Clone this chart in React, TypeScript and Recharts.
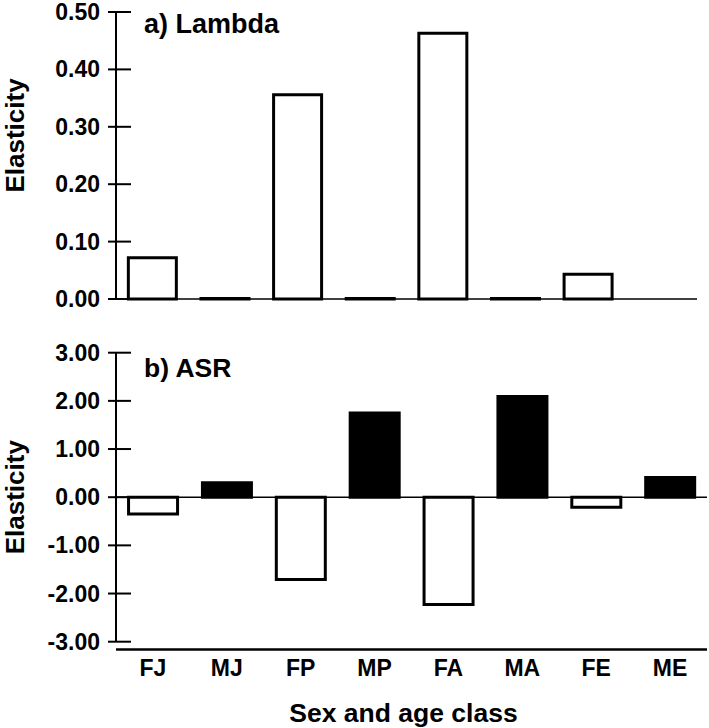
import { BarChart, Bar, XAxis, YAxis, Cell, ReferenceLine } from 'recharts';

const classes = ['FJ', 'MJ', 'FP', 'MP', 'FA', 'MA', 'FE', 'ME'];
const lambdaElasticity = [0.072, 0.001, 0.356, 0.001, 0.463, 0.001, 0.043, 0];
const asrElasticity = [-0.35, 0.3, -1.71, 1.75, -2.23, 2.09, -0.21, 0.41];
const lambdaTicks = [0, 0.1, 0.2, 0.3, 0.4, 0.5];
const asrTicks = [-3, -2, -1, 0, 1, 2, 3];

const FONT = '"Liberation Sans", Arial, Helvetica, sans-serif';

const lambdaData = classes.map((cls, i) => ({ cls, value: lambdaElasticity[i] }));
const asrData = classes.map((cls, i) => ({ cls, value: asrElasticity[i] }));

// label sits left of the axis, tick line crosses the axis
function YTick(props: any) {
  const { x, y, payload } = props;
  return (
    <g>
      <line x1={x + 8} y1={y} x2={x + 31} y2={y} stroke="#000" strokeWidth={2} />
      <text
        x={x}
        y={y}
        textAnchor="end"
        dominantBaseline="central"
        fontFamily={FONT}
        fontWeight="bold"
        fontSize={23}
        fill="#000"
      >
        {Number(payload.value).toFixed(2)}
      </text>
    </g>
  );
}

function elasticityLabel(shift: number) {
  return (props: any) => {
    const vb = props.viewBox || {};
    const cy = (vb.y ?? 0) + (vb.height ?? 0) / 2 + shift;
    return (
      <text
        x={15}
        y={cy}
        transform={`rotate(-90, 15, ${cy})`}
        textAnchor="middle"
        dominantBaseline="central"
        fontFamily={FONT}
        fontWeight="bold"
        fontSize={26}
        fill="#000"
      >
        Elasticity
      </text>
    );
  };
}

function xTitle(props: any) {
  const vb = props.viewBox || {};
  return (
    <text
      x={(vb.x ?? 0) + (vb.width ?? 0) / 2 - 8}
      y={(vb.y ?? 0) + 80}
      textAnchor="middle"
      fontFamily={FONT}
      fontWeight="bold"
      fontSize={26.5}
      fill="#000"
    >
      Sex and age class
    </text>
  );
}

export default function App() {
  return (
    <div style={{ position: 'absolute', left: 0, top: 0, width: 709, height: 728, background: '#fff' }}>
      <div style={{ position: 'absolute', left: 0, top: 0 }}>
        <BarChart
          width={709}
          height={320}
          data={lambdaData}
          margin={{ top: 12, right: 12, bottom: 21, left: 0 }}
          barCategoryGap="17%"
        >
          <XAxis dataKey="cls" hide />
          <YAxis
            width={116}
            domain={[0, 0.5]}
            ticks={lambdaTicks}
            interval={0}
            tickLine={false}
            tickSize={0}
            tickMargin={16}
            axisLine={{ stroke: '#000', strokeWidth: 2 }}
            tick={<YTick />}
            label={{ content: elasticityLabel(-20) }}
          />
          <ReferenceLine y={0} stroke="#000" strokeWidth={1.5} />
          <Bar dataKey="value" isAnimationActive={false} stroke="#000" strokeWidth={3}>
            {lambdaData.map((d) => (
              <Cell key={d.cls} fill="#fff" />
            ))}
          </Bar>
        </BarChart>
      </div>
      <div style={{ position: 'absolute', left: 0, top: 330 }}>
        <BarChart
          width={709}
          height={398}
          data={asrData}
          margin={{ top: 22.7, right: 2, bottom: 26.3, left: 0 }}
          barCategoryGap="17%"
        >
          <XAxis
            dataKey="cls"
            height={60}
            interval={0}
            axisLine={false}
            tickLine={false}
            tickSize={0}
            tickMargin={18}
            tick={{ fontSize: 23, fontWeight: 'bold', fill: '#000', fontFamily: FONT }}
            label={{ content: xTitle }}
          />
          <YAxis
            width={116}
            domain={[-3, 3]}
            ticks={asrTicks}
            interval={0}
            tickLine={false}
            tickSize={0}
            tickMargin={16}
            axisLine={{ stroke: '#000', strokeWidth: 2 }}
            tick={<YTick />}
            label={{ content: elasticityLabel(0) }}
          />
          <ReferenceLine y={0} stroke="#000" strokeWidth={1.5} />
          <ReferenceLine y={-3.16} ifOverflow="visible" stroke="#000" strokeWidth={2.5} />
          <Bar dataKey="value" isAnimationActive={false} stroke="#000" strokeWidth={3}>
            {asrData.map((d) => (
              <Cell key={d.cls} fill={d.value < 0 ? '#fff' : '#000'} />
            ))}
          </Bar>
        </BarChart>
      </div>
      <svg
        width={709}
        height={728}
        style={{ position: 'absolute', left: 0, top: 0, pointerEvents: 'none' }}
      >
        <text x={144} y={33} fontFamily={FONT} fontWeight="bold" fontSize={27} fill="#000">
          a) Lambda
        </text>
        <text x={144} y={377} fontFamily={FONT} fontWeight="bold" fontSize={26.5} fill="#000">
          b) ASR
        </text>
      </svg>
    </div>
  );
}
